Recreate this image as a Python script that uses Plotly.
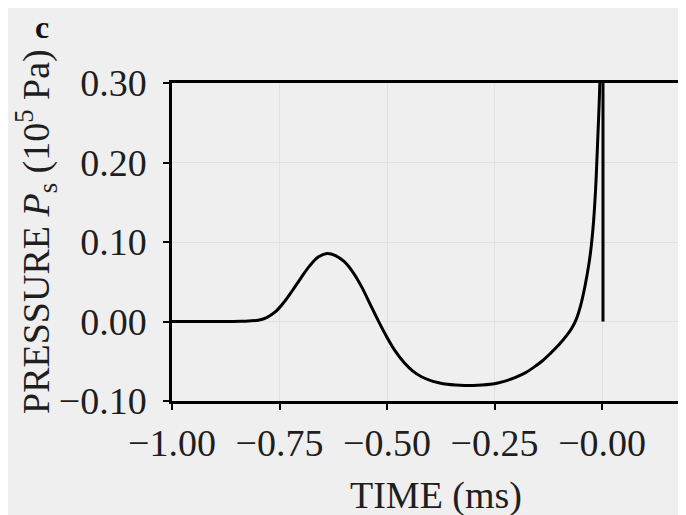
import plotly.graph_objects as go

# Time (ms) and shock pressure P_s (10^5 Pa)
time_ms = [-1.00, -0.90, -0.84, -0.80, -0.78, -0.76, -0.74, -0.72, -0.70, -0.68,
           -0.66, -0.64, -0.62, -0.60, -0.58, -0.56, -0.54, -0.52, -0.50, -0.48,
           -0.46, -0.44, -0.42, -0.40, -0.38, -0.36, -0.34, -0.32, -0.30, -0.28,
           -0.26, -0.24, -0.22, -0.20, -0.18, -0.16, -0.14, -0.12, -0.10, -0.08,
           -0.07, -0.06, -0.05, -0.04, -0.03, -0.025, -0.02, -0.015, -0.012, -0.009,
           -0.007, -0.005, -0.003]
pressure = [0.000, 0.000, 0.0003, 0.0015, 0.005, 0.012, 0.024, 0.039, 0.055, 0.070,
            0.081, 0.0855, 0.083, 0.0755, 0.0625, 0.0445, 0.0225, 0.0005, -0.020, -0.038,
            -0.052, -0.0625, -0.0695, -0.074, -0.077, -0.079, -0.080, -0.0805, -0.0805, -0.080,
            -0.079, -0.077, -0.074, -0.070, -0.065, -0.058, -0.050, -0.040, -0.029, -0.016,
            -0.008, 0.003, 0.020, 0.044, 0.075, 0.096, 0.125, 0.168, 0.205, 0.245,
            0.272, 0.305, 0.360]

# pressure drop back to zero at the shock (vertical segment)
drop_time = [0.002, 0.002]
drop_pressure = [0.360, 0.000]

x_tickvals = [-1.00, -0.75, -0.50, -0.25, 0.00]
x_ticktext = ["\u22121.00", "\u22120.75", "\u22120.50", "\u22120.25", "\u22120.00"]
y_tickvals = [-0.10, 0.00, 0.10, 0.20, 0.30]
y_ticktext = ["\u22120.10", "0.00", "0.10", "0.20", "0.30"]

FONT = "Liberation Serif"
FS = 38
BG = "#efefef"
GRID = "#e1e1e1"
TXT = "#1e1e1e"

fig = go.Figure()
fig.add_trace(go.Scatter(x=time_ms, y=pressure, mode="lines",
                         line=dict(color="black", width=3, shape="spline", smoothing=1.0),
                         showlegend=False))
fig.add_trace(go.Scatter(x=drop_time, y=drop_pressure, mode="lines",
                         line=dict(color="black", width=3), showlegend=False))

fig.update_layout(
    width=678, height=507,
    margin=dict(l=164, r=0, t=75, b=114),
    paper_bgcolor=BG, plot_bgcolor=BG,
    font=dict(family=FONT, size=FS, color=TXT),
    xaxis=dict(range=[-1.0, 0.195], tickvals=x_tickvals, ticktext=x_ticktext,
               showgrid=True, gridcolor=GRID, gridwidth=1, zeroline=False,
               showline=True, linecolor="black", linewidth=2.5, mirror=True,
               ticks="outside", ticklen=6, tickwidth=2, tickcolor="black",
               ticklabelstandoff=1),
    yaxis=dict(range=[-0.10, 0.30], tickvals=y_tickvals, ticktext=y_ticktext,
               showgrid=True, gridcolor=GRID, gridwidth=1, zeroline=False,
               showline=True, linecolor="black", linewidth=2.5, mirror=False,
               ticks="outside", ticklen=6, tickwidth=2, tickcolor="black",
               ticklabelstandoff=9),
    annotations=[
        dict(text="TIME (ms)", xref="paper", yref="paper", x=0.5136, y=-0.2956,
             xanchor="center", yanchor="middle", showarrow=False,
             font=dict(family=FONT, size=FS, color=TXT)),
        dict(text="PRESSURE <i>P</i><sub>s</sub> (10<sup>5</sup> Pa)",
             xref="paper", yref="paper", x=-0.2646, y=0.5346, textangle=-90,
             xanchor="center", yanchor="middle", showarrow=False,
             font=dict(family=FONT, size=FS, color=TXT)),
        dict(text="<b>c</b>", xref="paper", yref="paper", x=-0.2529, y=1.0 + 75 / 318,
             xanchor="center", yanchor="top", showarrow=False, borderpad=0,
             font=dict(family=FONT, size=32, color="#111111")),
    ],
)

fig.write_html("out.html")
